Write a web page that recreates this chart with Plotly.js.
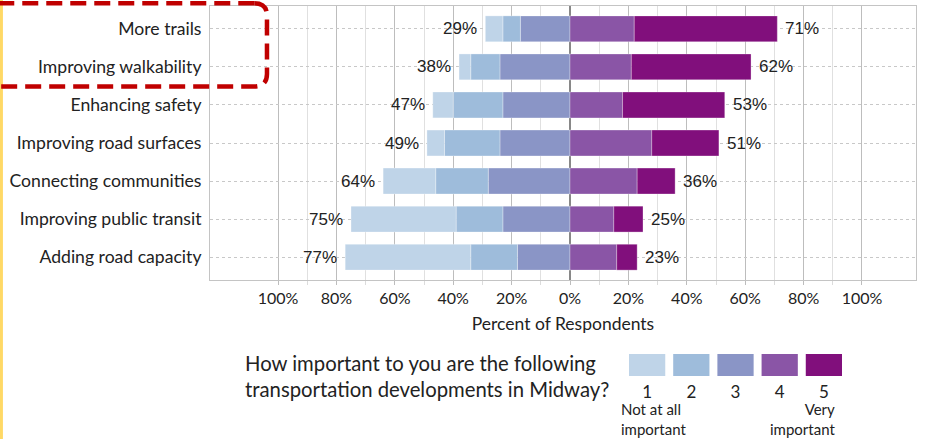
<!DOCTYPE html>
<html>
<head>
<meta charset="utf-8">
<script src="https://cdn.plot.ly/plotly-3.0.1.min.js"></script>
<style>
  html, body { margin: 0; padding: 0; background: #ffffff; }
  #chart { width: 941px; height: 439px; }
</style>
</head>
<body>
<div id="chart"></div>
<script>
// ---- data ----
const categories = [
  "More trails",
  "Improving walkability",
  "Enhancing safety",
  "Improving road surfaces",
  "Connecting communities",
  "Improving public transit",
  "Adding road capacity"
];
// percent of respondents per rating (1 = not at all important ... 5 = very important)
const rating1 = [6, 4, 7, 6, 18, 36, 43];
const rating2 = [6, 10, 17, 19, 18, 16, 16];
const rating3 = [17, 24, 23, 24, 28, 23, 18];
const rating4 = [22, 21, 18, 28, 23, 15, 16];
const rating5 = [49, 41, 35, 23, 13, 10, 7];
const leftLabels  = [29, 38, 47, 49, 64, 75, 77];
const rightLabels = [71, 62, 53, 51, 36, 25, 23];
const ratingNames = ["1", "2", "3", "4", "5"];
const ratingColors = ["#bfd4e8", "#9ebcdb", "#8a95c6", "#8a55a6", "#810f7c"];
const tickVals = [-100, -80, -60, -40, -20, 0, 20, 40, 60, 80, 100];
const tickText = ["100%", "80%", "60%", "40%", "20%", "0%", "20%", "40%", "60%", "80%", "100%"];
const minorVals = [-90, -70, -50, -30, -10, 10, 30, 50, 70, 90];

const labelFont = "Lato, 'Open Sans', sans-serif";
const numFont = "'Liberation Sans', Arial, sans-serif";

function barTrace(vals, idx, sign) {
  return {
    type: "bar",
    orientation: "h",
    y: categories,
    x: vals.map(v => sign * v),
    name: ratingNames[idx],
    marker: { color: ratingColors[idx], line: { width: 0.6, color: "rgba(255,255,255,0.5)" } },
    width: 0.68,
    hoverinfo: "skip",
    showlegend: false,
    xaxis: "x",
    yaxis: "y"
  };
}

const traces = [
  barTrace(rating3, 2, -1),
  barTrace(rating2, 1, -1),
  barTrace(rating1, 0, -1),
  barTrace(rating4, 3, 1),
  barTrace(rating5, 4, 1),
  {
    type: "bar",
    x: ratingNames,
    y: ratingNames.map(() => 1),
    marker: { color: ratingColors },
    width: 0.82,
    hoverinfo: "skip",
    showlegend: false,
    xaxis: "x2",
    yaxis: "y2"
  }
];

const annotations = [];
categories.forEach((c, i) => {
  annotations.push({
    x: -leftLabels[i], y: c, xref: "x", yref: "y",
    text: leftLabels[i] + "%", showarrow: false,
    xanchor: "right", xshift: -6,
    font: { family: numFont, size: 17, color: "#222" }
  });
  annotations.push({
    x: rightLabels[i], y: c, xref: "x", yref: "y",
    text: rightLabels[i] + "%", showarrow: false,
    xanchor: "left", xshift: 6,
    font: { family: numFont, size: 17, color: "#222" }
  });
});
annotations.push({
  x: 0.0467, y: 0.1276, xref: "paper", yref: "paper",
  text: "How important to you are the following<br>transportation developments in Midway?",
  showarrow: false, xanchor: "left", yanchor: "middle", align: "left",
  font: { family: labelFont, size: 20.3, color: "#222" }
});
annotations.push({
  x: 0.5793, y: 0.0267, xref: "paper", yref: "paper",
  text: "Not at all<br>important",
  showarrow: false, xanchor: "left", yanchor: "middle", align: "left",
  font: { family: labelFont, size: 15, color: "#222" }
});
annotations.push({
  x: 0.888, y: 0.0267, xref: "paper", yref: "paper",
  text: "Very<br>important",
  showarrow: false, xanchor: "right", yanchor: "middle", align: "right",
  font: { family: labelFont, size: 15, color: "#222" }
});

// red dashed highlight box (paper coordinates)
const bx0 = -0.32, bx1 = 0.0807, byT = 0.9925, byB = 0.7993, rx = 0.018, ry = 0.029;
const shapes = [
  {
    type: "rect", xref: "paper", yref: "paper",
    x0: -0.2975, x1: -0.2933, y0: -0.03, y1: 1.01,
    fillcolor: "#ffd966", line: { width: 0 }, layer: "above"
  },
  {
    type: "path", xref: "paper", yref: "paper", layer: "above",
    path: `M ${bx1 - rx},${byT} Q ${bx1},${byT} ${bx1},${byT - ry} ` +
          `L ${bx1},${byB + ry} Q ${bx1},${byB} ${bx1 - rx},${byB} L ${bx0},${byB}`,
    line: { color: "#c00000", width: 4.5, dash: "16px,8px" }
  },
  {
    type: "line", xref: "paper", yref: "paper", layer: "above",
    x0: bx1 - rx, x1: bx0, y0: byT, y1: byT,
    line: { color: "#c00000", width: 4.5, dash: "16px,8px" }
  }
];

const layout = {
  width: 941, height: 439,
  margin: { l: 210, r: 25, t: 0, b: 8 },
  paper_bgcolor: "#ffffff",
  plot_bgcolor: "#ffffff",
  barmode: "relative",
  bargap: 0.32,
  xaxis: {
    domain: [0, 1], anchor: "y",
    range: [-123.3, 118.5],
    tickmode: "array", tickvals: tickVals, ticktext: tickText,
    tickfont: { family: labelFont, size: 16, color: "#222" },
    showgrid: true, gridcolor: "#bdbdbd", gridwidth: 1,
    zeroline: true, zerolinecolor: "#888888", zerolinewidth: 1.5,
    ticks: "outside", ticklen: 4, tickcolor: "#bdbdbd",
    minor: { tickmode: "array", tickvals: minorVals, showgrid: true, gridcolor: "#e0e0e0", ticks: "outside", ticklen: 4, tickcolor: "#dcdcdc" },
    showline: true, mirror: true, linecolor: "#c4c4c4", linewidth: 1,
    title: { text: "Percent of Respondents", font: { family: labelFont, size: 17.5, color: "#222" }, standoff: 11 },
    fixedrange: true
  },
  yaxis: {
    domain: [0.3503, 0.9861], anchor: "x",
    type: "category",
    categoryorder: "array", categoryarray: categories,
    range: [6.6, -0.6],
    tickfont: { family: labelFont, size: 17.6, color: "#222" },
    showgrid: true, gridcolor: "#c8c8c8", griddash: "dot", gridwidth: 1,
    ticks: "", ticklabelstandoff: 4,
    showline: true, mirror: true, linecolor: "#c4c4c4", linewidth: 1,
    fixedrange: true
  },
  xaxis2: {
    domain: [0.5935, 0.8952], anchor: "y2",
    type: "category", range: [-0.41, 4.41],
    showgrid: false, zeroline: false, showline: false, ticks: "",
    ticklabelstandoff: 4,
    tickfont: { family: labelFont, size: 17, color: "#222" },
    fixedrange: true
  },
  yaxis2: {
    domain: [0.1276, 0.1787], anchor: "x2",
    range: [0, 1], visible: false, fixedrange: true
  },
  annotations: annotations,
  shapes: shapes,
  showlegend: false
};

Plotly.newPlot("chart", traces, layout, { displayModeBar: false, staticPlot: true });
</script>
</body>
</html>
